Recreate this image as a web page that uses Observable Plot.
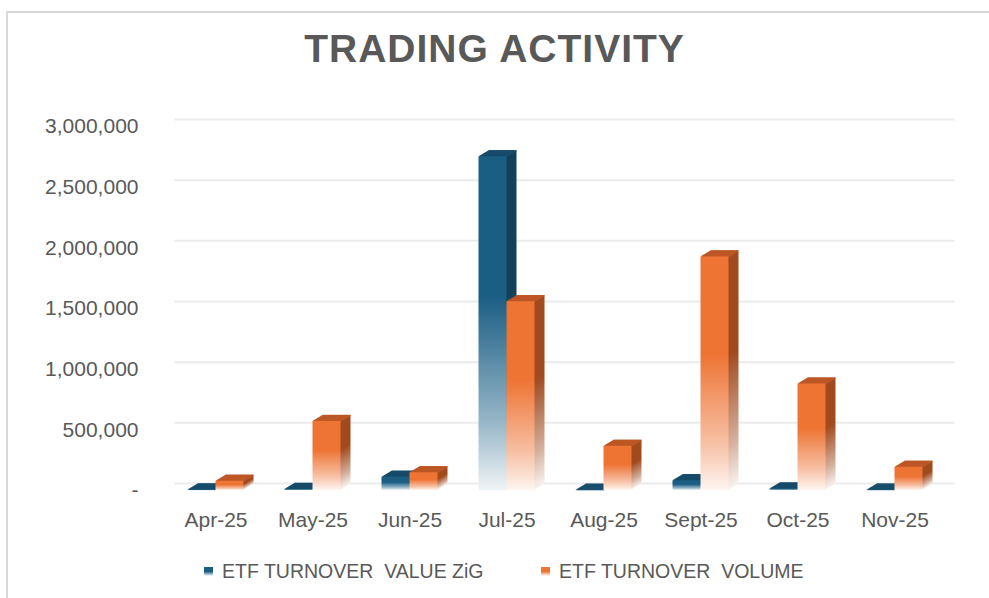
<!DOCTYPE html>
<html>
<head>
<meta charset="utf-8">
<script src="https://cdn.jsdelivr.net/npm/d3@7"></script>
<script src="https://cdn.jsdelivr.net/npm/@observablehq/plot@0.6"></script>
<style>
  html, body { margin: 0; padding: 0; background: #fff; }
  #wrap { position: relative; width: 989px; height: 598px; overflow: hidden; font-family: "Liberation Sans", Arial, sans-serif; }
  #frame { position: absolute; left: 6px; top: 11px; right: -4px; bottom: -4px; border-left: 2px solid #d9d9d9; border-top: 2px solid #d9d9d9; }
  #title { position: absolute; left: 0; width: 989px; top: 29px; text-align: center; font-size: 39px; line-height: 39px; font-weight: bold; color: #595959; letter-spacing: 1px; }
  #plot { position: absolute; left: 0; top: 90px; }
  .leg { position: absolute; top: 560px; height: 22px; display: flex; align-items: center; font-size: 19.5px; color: #595959; white-space: pre; }
  .sw { width: 9px; height: 9px; margin-right: 9px; }
</style>
</head>
<body>
<div id="wrap">
  <div id="frame"></div>
  <div id="title"></div>
  <div id="plot"></div>
</div>
<script>
const title = "TRADING ACTIVITY";
const months = ["Apr-25", "May-25", "Jun-25", "Jul-25", "Aug-25", "Sept-25", "Oct-25", "Nov-25"];
const valueZiG = [4000, 9000, 109000, 2750000, 2000, 80000, 12000, 3000];
const volume = [76000, 569000, 146000, 1556000, 364000, 1925000, 877000, 191000];
const seriesNames = ["ETF TURNOVER  VALUE ZiG", "ETF TURNOVER  VOLUME"];
const yTicks = [0, 500000, 1000000, 1500000, 2000000, 2500000, 3000000];

const colors = {
  blue:   {front: "#1b5e84", side: "#123f5a", top: "#174e6d"},
  orange: {front: "#ee7434", side: "#a04a1e", top: "#c25a28"}
};

const blueData = months.map((m, i) => ({month: m, value: valueZiG[i]}));
const orangeData = months.map((m, i) => ({month: m, value: volume[i]}));

document.getElementById("title").textContent = title;

const width = 989, marginLeft = 166.5, marginRight = 46.5;
const step = (width - marginLeft - marginRight) / months.length;
const barW = 28;
const half = step / 2;
const depth = 10;

function bar3d(data, c, key, insetLeft, insetRight) {
  const marks = [];
  for (let i = depth; i >= 1; i--) {
    marks.push(Plot.barY(data, {x: "month", y: "value", insetLeft, insetRight, dx: i, dy: -0.6 * i, fill: `url(#${key}Side)`}));
    marks.push(Plot.tickY(data, {x: "month", y: "value", insetLeft, insetRight, dx: i, dy: -0.6 * i, stroke: c.top, strokeWidth: 1.3}));
  }
  marks.push(Plot.barY(data, {x: "month", y: "value", insetLeft, insetRight, fill: `url(#${key}Front)`}));
  return marks;
}

const svg = Plot.plot({
  width,
  height: 460,
  marginLeft,
  marginRight,
  marginTop: 36,
  marginBottom: 60,
  style: {fontFamily: "Liberation Sans, Arial, sans-serif", fontSize: "21px", color: "#595959", background: "transparent", overflow: "visible"},
  x: {domain: months, padding: 0, label: null, tickSize: 0, tickPadding: 22},
  y: {domain: [0, 3000000], label: null, ticks: yTicks, tickSize: 0, tickPadding: 28.5,
      tickFormat: d => d === 0 ? "-" : d3.format(",")(d)},
  marks: [
    Plot.ruleY(yTicks, {stroke: "#ebebeb", strokeWidth: 2, dx: 10, dy: -7, insetLeft: -2, insetRight: -2}),
    ...bar3d(blueData, colors.blue, "blue", half - barW, half),
    ...bar3d(orangeData, colors.orange, "orange", half, half - barW)
  ]
});

function grad(id, color, fadeStart) {
  const light = d3.interpolateRgb(color, "#ffffff")(0.93);
  const mid = d3.interpolateRgb(color, "#ffffff")(0.55);
  return `<linearGradient id="${id}" x1="0" y1="0" x2="0" y2="1">
    <stop offset="0" stop-color="${color}"/>
    <stop offset="${fadeStart}" stop-color="${color}"/>
    <stop offset="0.8" stop-color="${mid}"/>
    <stop offset="1" stop-color="${light}"/>
  </linearGradient>`;
}
d3.select(svg).insert("defs", ":first-child").html(
  grad("blueFront", colors.blue.front, 0.42) +
  grad("blueSide", colors.blue.side, 0.42) +
  grad("orangeFront", colors.orange.front, 0.42) +
  grad("orangeSide", colors.orange.side, 0.42)
);
document.getElementById("plot").appendChild(svg);

// legend
const wrap = document.getElementById("wrap");
const legendColors = [colors.blue.front, colors.orange.front];
const legendLeft = [204, 541];
seriesNames.forEach((name, i) => {
  const item = document.createElement("div");
  item.className = "leg";
  item.style.left = legendLeft[i] + "px";
  const sw = document.createElement("div");
  sw.className = "sw";
  sw.style.background = `linear-gradient(${legendColors[i]} 0%, ${legendColors[i]} 50%, rgba(255,255,255,0.6) 100%)`;
  const tx = document.createElement("span");
  tx.textContent = name;
  item.appendChild(sw);
  item.appendChild(tx);
  wrap.appendChild(item);
});
</script>
</body>
</html>
